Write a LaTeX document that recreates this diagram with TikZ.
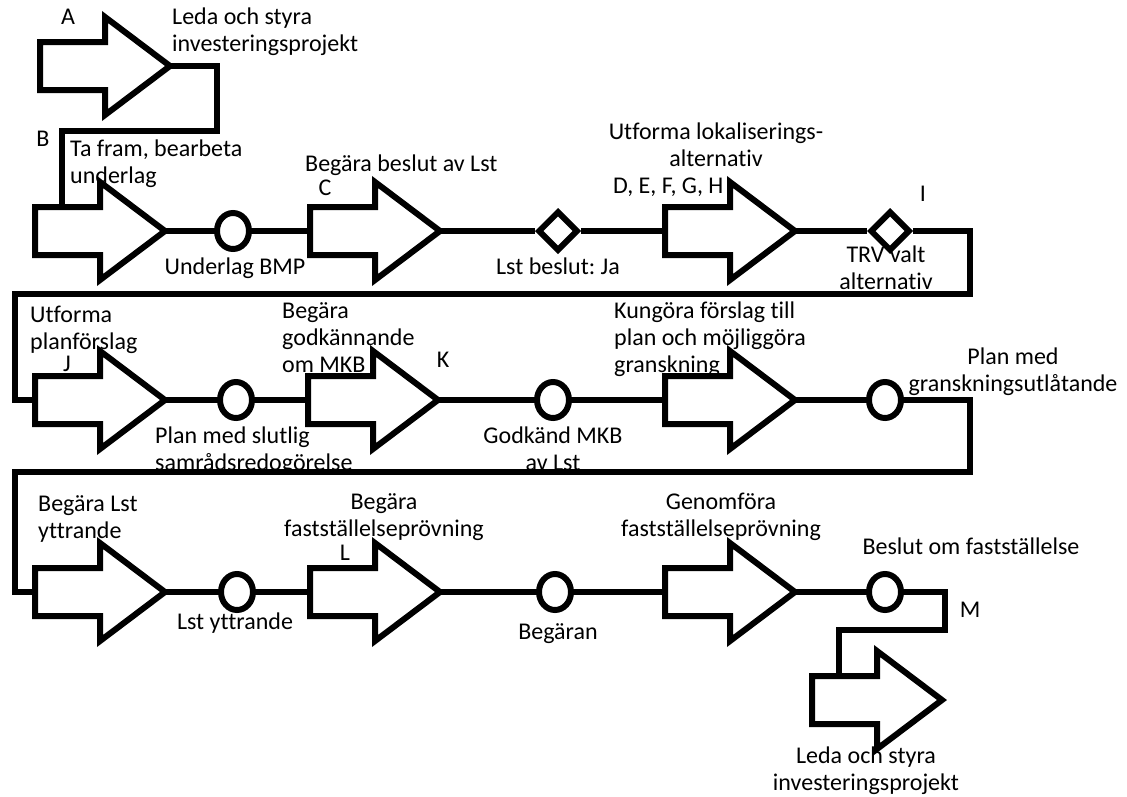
\documentclass[tikz,border=0pt]{standalone}
\usepackage{fontspec}
\setmainfont{Carlito}[Ligatures=NoCommon]
\usetikzlibrary{shapes.geometric}
\frenchspacing

\tikzset{
  process/.pic={
    \draw[line width=6pt, line join=miter, fill=white]
      (0,-24) -- (65,-24) -- (65,-49) -- (130,0) -- (65,49) -- (65,24) -- (0,24) -- cycle;
    \coordinate (-tail) at (0,0);
    \coordinate (-tip) at (130,0);
    \coordinate (-in) at (27,-24);
  }
}

\begin{document}
\begin{tikzpicture}[x=1pt, y=-1pt,
    flow/.style={line width=6pt, line join=miter},
    result/.style={draw, ellipse, line width=6pt, fill=white, minimum width=32pt, minimum height=36pt, inner sep=0pt},
    decision/.style={draw, diamond, line width=6pt, line join=miter, fill=white, minimum width=40pt, minimum height=40pt, inner sep=0pt},
    lbl/.style={font=\fontsize{24}{27}\selectfont, inner sep=0pt}]
        \useasboundingbox (0,0) rectangle (1127,796);

        % bends of the flow
        \coordinate (ab) at (217,131);
        \coordinate (r1) at (970,294);
        \coordinate (l1) at (15,400);
        \coordinate (r2) at (970,472);
        \coordinate (l2) at (15,592);
        \coordinate (mb) at (945,630);

        % row 1
        \pic (a) at (40,66) {process};
        \pic (b) at (35,231) {process};
        \node[result] (e1) at (233,231) {};
        \pic (c) at (310,231) {process};
        \node[decision] (d1) at (558,231) {};
        \pic (d) at (665,231) {process};
        \node[decision] (d2) at (890,231) {};

        % row 2
        \pic (j) at (35,400) {process};
        \node[result] (e2) at (236,400) {};
        \pic (k) at (308,400) {process};
        \node[result] (e3) at (553,400) {};
        \pic (g) at (665,400) {process};
        \node[result] (e4) at (885,400) {};

        % row 3
        \pic (y) at (35,592) {process};
        \node[result] (e5) at (237,592) {};
        \pic (l) at (310,592) {process};
        \node[result] (e6) at (555,592) {};
        \pic (f) at (665,592) {process};
        \node[result] (e7) at (885,592) {};
        \pic (m) at (812,700) {process};

        \draw[flow] (a-tip) -| (ab) -| (b-in);
        \draw[flow] (b-tip) -- (e1);
        \draw[flow] (e1) -- (c-tail);
        \draw[flow] (c-tip) -- (d1);
        \draw[flow] (d1) -- (d-tail);
        \draw[flow] (d-tip) -- (d2);
        \draw[flow] (d2) -| (r1) -| (l1) -- (j-tail);
        \draw[flow] (j-tip) -- (e2);
        \draw[flow] (e2) -- (k-tail);
        \draw[flow] (k-tip) -- (e3);
        \draw[flow] (e3) -- (g-tail);
        \draw[flow] (g-tip) -- (e4);
        \draw[flow] (e4) -| (r2) -| (l2) -- (y-tail);
        \draw[flow] (y-tip) -- (e5);
        \draw[flow] (e5) -- (l-tail);
        \draw[flow] (l-tip) -- (e6);
        \draw[flow] (e6) -- (f-tail);
        \draw[flow] (f-tip) -- (e7);
        \draw[flow] (e7) -| (mb) -| (m-in);

        % labels
        \node[lbl, anchor=north] (la) at (68,9) {A};
        \node[lbl, anchor=north west, align=left] (lleda) at (172,8) {Leda och styra\\investeringsprojekt};
        \node[lbl, anchor=north] (lb) at (43,131) {B};
        \node[lbl, anchor=north west, align=left] (lta) at (70,140) {Ta fram, bearbeta\\underlag};
        \node[lbl, anchor=north] (lbmp) at (235,258) {Underlag BMP};
        \node[lbl, anchor=north west] (lbeg) at (305,155) {Begära beslut av Lst};
        \node[lbl, anchor=north] (lc) at (325,180) {C};
        \node[lbl, anchor=north] (lja) at (558,258) {Lst beslut: Ja};
        \node[lbl, anchor=north, align=center] (lutf) at (716,123) {Utforma lokaliserings-\\alternativ};
        \node[lbl, anchor=north west] (ldh) at (613,178) {D, E, F, G, H};
        \node[lbl, anchor=north] (li) at (923,186) {I};
        \node[lbl, anchor=north, align=center] (ltrv) at (886,246) {TRV valt\\alternativ};
        \node[lbl, anchor=north west, align=left] (lplan) at (30,306) {Utforma\\planförslag};
        \node[lbl, anchor=north] (lj) at (67,356) {J};
        \node[lbl, anchor=north west, align=left] (lgod) at (282,302) {Begära\\godkännande\\om MKB};
        \node[lbl, anchor=north] (lk) at (443,352) {K};
        \node[lbl, anchor=north west, align=left] (lsam) at (155,427) {Plan med slutlig\\samrådsredogörelse};
        \node[lbl, anchor=north west, align=left] (lkun) at (614,302) {Kungöra förslag till\\plan och möjliggöra\\granskning};
        \node[lbl, anchor=north, align=center] (lmkb) at (553,427) {Godkänd MKB\\av Lst};
        \node[lbl, anchor=north, align=center] (lgra) at (1013,348) {Plan med\\granskningsutlåtande};
        \node[lbl, anchor=north west, align=left] (lytt) at (38,495) {Begära Lst\\yttrande};
        \node[lbl, anchor=north, align=center] (lfas) at (384,493) {Begära\\fastställelseprövning};
        \node[lbl, anchor=north] (ll) at (345,545) {L};
        \node[lbl, anchor=north] (llst) at (235,613) {Lst yttrande};
        \node[lbl, anchor=north] (lbgr) at (558,623) {Begäran};
        \node[lbl, anchor=north, align=center] (lgen) at (721,493) {Genomföra\\fastställelseprövning};
        \node[lbl, anchor=north] (lbes) at (971,538) {Beslut om fastställelse};
        \node[lbl, anchor=north] (lm) at (970,602) {M};
        \node[lbl, anchor=north, align=center] (lend) at (866,747) {Leda och styra\\investeringsprojekt};
    \end{tikzpicture}
\end{document}
